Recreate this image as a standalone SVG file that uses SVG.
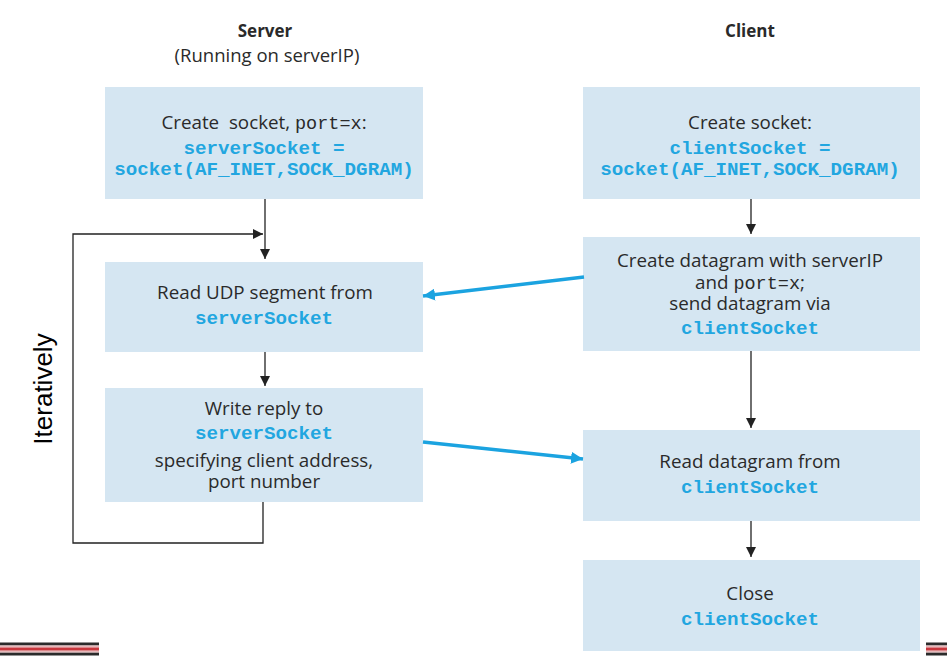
<svg xmlns="http://www.w3.org/2000/svg" width="947" height="662" viewBox="0 0 947 662">
<defs>
<style>
.box{fill:#d5e6f2}
.t{font-family:"Open Sans","Noto Sans","Liberation Sans",sans-serif;font-size:18.8px;fill:#2a2a2a;text-anchor:middle}
.h{font-family:"Open Sans","Noto Sans","Liberation Sans",sans-serif;font-size:18.5px;fill:#2a2a2a;text-anchor:middle}
.hb{font-weight:bold;font-size:17px}
.c{font-family:"Liberation Mono","Courier New",monospace;font-size:19.2px;font-weight:bold;fill:#22a6e0;text-anchor:middle}
.m{font-family:"Liberation Mono","Courier New",monospace;font-size:18.5px}
.ln{fill:none;stroke:#222;stroke-width:1.3}
.bl{fill:none;stroke:#1ba3e0;stroke-width:3.5}
</style>
<marker id="ah" viewBox="0 0 10 10" refX="10" refY="5" markerWidth="10" markerHeight="10" markerUnits="userSpaceOnUse" orient="auto"><path d="M0,0 L10,5 L0,10 z" fill="#222"/></marker>
<marker id="ab" viewBox="0 0 12 12" refX="12" refY="6" markerWidth="12" markerHeight="12" markerUnits="userSpaceOnUse" orient="auto"><path d="M0,0 L12,6 L0,12 z" fill="#1ba3e0"/></marker>
</defs>
<rect width="947" height="662" fill="#ffffff"/>

<g id="headers">
<text class="h hb" x="265" y="37">Server</text>
<text class="h" x="267" y="62">(Running on serverIP)</text>
<text class="h hb" x="750" y="37">Client</text>
</g>

<g id="s1">
<rect class="box" x="105" y="87" width="318" height="112"/>
<text class="t" x="264" y="129" xml:space="preserve">Create  socket, <tspan class="m">port=x</tspan>:</text>
<text class="c" x="264" y="154">serverSocket =</text>
<text class="c" x="264" y="175">socket(AF_INET,SOCK_DGRAM)</text>
</g>

<g id="s2">
<rect class="box" x="105" y="262" width="318" height="90"/>
<text class="t" x="265" y="299">Read UDP segment from</text>
<text class="c" x="264" y="324">serverSocket</text>
</g>

<g id="s3">
<rect class="box" x="105" y="388" width="318" height="114"/>
<text class="t" x="264" y="415">Write reply to</text>
<text class="c" x="264" y="439">serverSocket</text>
<text class="t" x="264" y="467">specifying client address,</text>
<text class="t" x="264" y="488">port number</text>
</g>

<g id="c1">
<rect class="box" x="583" y="87" width="337" height="112"/>
<text class="t" x="750" y="129">Create socket:</text>
<text class="c" x="750" y="154">clientSocket =</text>
<text class="c" x="750" y="175">socket(AF_INET,SOCK_DGRAM)</text>
</g>

<g id="c2">
<rect class="box" x="583" y="237" width="337" height="114"/>
<text class="t" x="750" y="267">Create datagram with serverIP</text>
<text class="t" x="750" y="289">and <tspan class="m">port=x</tspan>;</text>
<text class="t" x="750" y="310">send datagram via</text>
<text class="c" x="750" y="334">clientSocket</text>
</g>

<g id="c3">
<rect class="box" x="583" y="430" width="337" height="91"/>
<text class="t" x="750" y="468">Read datagram from</text>
<text class="c" x="750" y="493">clientSocket</text>
</g>

<g id="c4">
<rect class="box" x="583" y="560" width="337" height="91"/>
<text class="t" x="750" y="600">Close</text>
<text class="c" x="750" y="625">clientSocket</text>
</g>

<g id="label">
<text x="52" y="389" transform="rotate(-90 52 389)" font-family="'Liberation Sans',Arial,sans-serif" font-size="26" fill="#000" text-anchor="middle">Iteratively</text>
</g>

<g id="connectors">
<path class="ln" d="M265,199 V259" marker-end="url(#ah)"/>
<path class="ln" d="M265,352 V386" marker-end="url(#ah)"/>
<path class="ln" d="M263,502 V543 H73 V234 H263" marker-end="url(#ah)"/>
<path class="ln" d="M751,199 V234" marker-end="url(#ah)"/>
<path class="ln" d="M751,351 V428" marker-end="url(#ah)"/>
<path class="ln" d="M751,521 V557" marker-end="url(#ah)"/>
<path class="bl" d="M584,277 L423,296" marker-end="url(#ab)"/>
<path class="bl" d="M423,442 L583,459" marker-end="url(#ab)"/>
</g>

<g id="footer">
<rect x="0" y="642.5" width="99" height="3" fill="#2b2b2b"/>
<rect x="0" y="645.5" width="99" height="2" fill="#e6b8ba"/>
<rect x="0" y="647.5" width="99" height="3.2" fill="#c8373d"/>
<rect x="0" y="650.7" width="99" height="2" fill="#e6b8ba"/>
<rect x="0" y="652.7" width="99" height="2.8" fill="#2b2b2b"/>
<rect x="926" y="642.5" width="21" height="3" fill="#2b2b2b"/>
<rect x="926" y="645.5" width="21" height="2" fill="#e6b8ba"/>
<rect x="926" y="647.5" width="21" height="3.2" fill="#c8373d"/>
<rect x="926" y="650.7" width="21" height="2" fill="#e6b8ba"/>
<rect x="926" y="652.7" width="21" height="2.8" fill="#2b2b2b"/>
</g>
</svg>
